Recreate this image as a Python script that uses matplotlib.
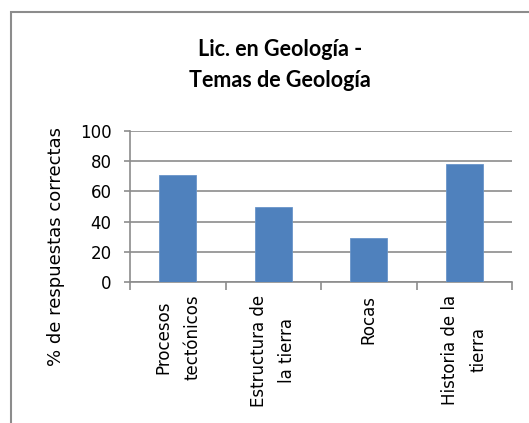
import matplotlib.pyplot as plt
from matplotlib.patches import Rectangle

categorias = ['Procesos\ntectónicos', 'Estructura de\nla tierra', 'Rocas', 'Historia de la\ntierra']
valores = [71, 50, 29, 78]
y_ticks = [0, 20, 40, 60, 80, 100]

gris = '#8c8c8c'
azul = '#4f81bd'
fuente = 'DejaVu Sans'

fig = plt.figure(figsize=(5.29, 4.23), dpi=100)
ax = fig.add_axes([130/529, 1-282/423, (512-130)/529, (282-131)/423])

x = range(len(categorias))
ax.bar(x, valores, width=0.39, color=azul, edgecolor='#6a95c9', linewidth=0.6, zorder=3)

ax.set_xlim(-0.5, len(categorias)-0.5)
ax.set_ylim(0, 100)
ax.set_yticks(y_ticks)
ax.set_yticklabels([str(v) for v in y_ticks], fontfamily=fuente, fontsize=12)
ax.set_xticks([i-0.5 for i in range(len(categorias)+1)])
ax.set_xticklabels([])
for i, c in enumerate(categorias):
    ax.text(i, -8.5, c, rotation=90, ha='center', va='top', multialignment='center',
            fontfamily=fuente, fontsize=12, linespacing=1.75)

ax.yaxis.grid(True, color=gris, linewidth=1.2, zorder=0)
for s in ['top', 'right']:
    ax.spines[s].set_visible(False)
for s in ['left', 'bottom']:
    ax.spines[s].set_color(gris)
    ax.spines[s].set_linewidth(1.2)
ax.tick_params(axis='y', length=4.3, width=1.2, color=gris, pad=9, labelcolor='black')
ax.tick_params(axis='x', length=5.8, width=1.2, color=gris)

fig.text(0.106, 1-246.5/423, '% de respuestas correctas', rotation=90, ha='center', va='center',
         fontfamily=fuente, fontsize=13)
fig.text(280/529, 1-65/423, 'Lic. en Geología -\nTemas de Geología', ha='center', va='center',
         fontfamily='Lato', fontweight='bold', fontsize=15.5, linespacing=1.6)

fig.patches.append(Rectangle((11/529, -0.1), 1.2, 1.1 - 12/423, transform=fig.transFigure,
                             fill=False, edgecolor=gris, linewidth=1.5))

fig.savefig('out.png', dpi=100)
